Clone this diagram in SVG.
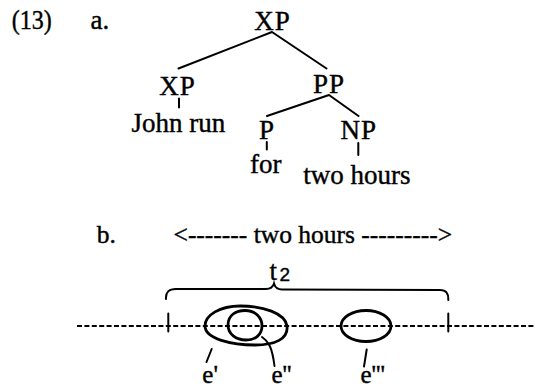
<svg xmlns="http://www.w3.org/2000/svg" width="535" height="389" viewBox="0 0 535 389">
<style>
text{font-family:"Liberation Serif","Times New Roman",serif;fill:#000;stroke:#000;stroke-width:0.4}
.n{font-size:27px;text-anchor:middle;letter-spacing:1px}
.w{font-size:27px}
.b{font-size:25.5px}
.e{font-size:25px}
.ln{stroke:#000;stroke-width:2;fill:none;stroke-linecap:round}
.ov{stroke:#000;stroke-width:2.8;fill:none;stroke-linejoin:round}
</style>
<rect width="535" height="389" fill="#fff"/>
<g id="label13"><text class="w" x="11.7" y="28.5" textLength="40" lengthAdjust="spacingAndGlyphs">(13)</text></g>
<g id="label-a"><text class="w" x="90.5" y="28.5">a.</text></g>
<g id="xp-top"><text class="n" x="272.5" y="29.5">XP</text></g>
<g id="xp-left"><text class="n" x="177.5" y="94.5">XP</text></g>
<g id="pp"><text class="n" x="329" y="92.5">PP</text></g>
<g id="p"><text class="n" x="267" y="139">P</text></g>
<g id="np"><text class="n" x="358.7" y="138.5">NP</text></g>
<g id="john-run"><text class="w" x="131.5" y="131.5">John run</text></g>
<g id="for"><text class="w" x="250" y="173">for</text></g>
<g id="two-hours"><text class="w" x="303.3" y="183.5">two hours</text></g>
<g id="connectors">
<path class="ln" d="M272,32 L178.5,68.5 M272,32 L326.5,68.5 M329,95 L267,116 M329,95 L358.5,116"/>
<path class="ln" d="M179,98.5 V107.5 M266.8,142 V149.5 M358.3,143 V155"/>
</g>
<g id="label-b"><text class="b" x="96.7" y="243.3">b.</text></g>
<g id="interval-label"><text class="b" x="173.5" y="243.3">&lt;------- two hours ---------&gt;</text></g>
<g id="t2"><text class="w" x="269.5" y="279.5">t</text><text x="279.5" y="281" style="font-family:'Liberation Sans',Arial,sans-serif;font-size:19px">2</text></g>
<g id="brace"><path class="ln" d="M166,299 C165.5,292 169,289 176,289 L266,289 C271,289 273,287 274,283.5 C275,287 277,289.5 282,289.5 L440,290 C446,290 448.5,293 448.3,300"/></g>
<g id="timeline">
<line x1="77" y1="326" x2="535" y2="326" stroke="#000" stroke-width="2.2" stroke-dasharray="5 2.4"/>
<path class="ln" d="M168.3,313.5 V331.5 M448.3,313.5 V331.5"/>
</g>
<g id="e1"><path class="ov" d="M205,326 C205,315 220,306 240,306 C263,306 285,313 287,326 C288.5,339 275,345 255,345 C232,345 205,339 205,326 Z"/>
<path class="ln" d="M211.7,349 L206.5,362"/>
<text class="e" x="202.3" y="383">e'</text></g>
<g id="e2"><path class="ov" d="M228,325 C228,315 236,310.5 245,310.5 C256,310.5 262,318 262,326 C262,335 255,340 246,340 C236,340 228,334 228,325 Z"/>
<path class="ln" d="M262,337 C268,341 272,346 274.5,366"/>
<text class="e" x="271.5" y="383">e''</text></g>
<g id="e3"><ellipse class="ov" cx="366" cy="326" rx="25" ry="15.5"/>
<path class="ln" d="M366.7,349.5 L364,366.5"/>
<text class="e" x="360.5" y="383">e'''</text></g>
</svg>
